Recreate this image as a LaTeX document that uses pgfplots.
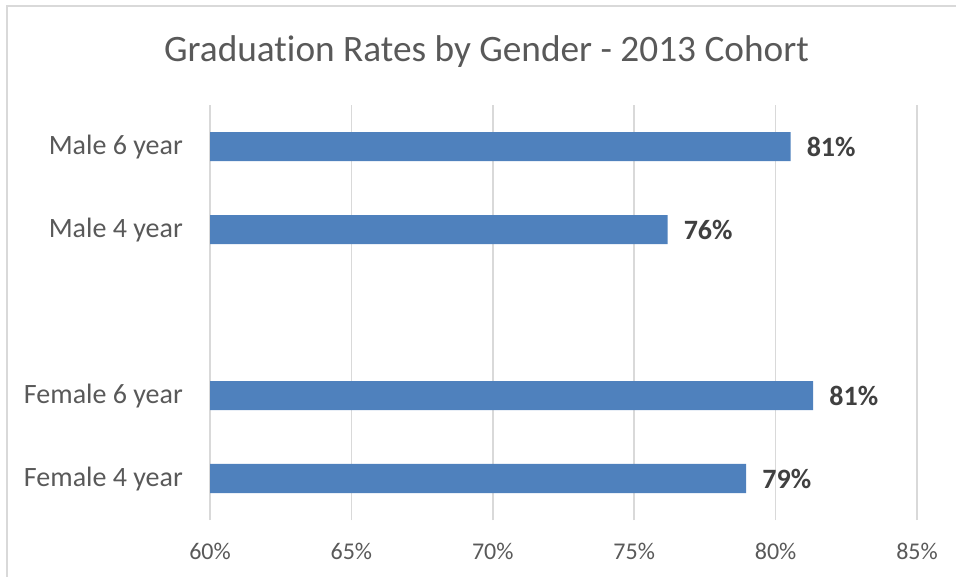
\documentclass[border=0pt]{standalone}
\usepackage{pgfplots}
\pgfplotsset{compat=1.18}
\usepackage{fontspec}
\setmainfont{Carlito}[RawFeature=-liga]
\definecolor{barblue}{HTML}{4F81BD}
\definecolor{txtgray}{HTML}{595959}
\definecolor{lblgray}{HTML}{404040}
\definecolor{gridgray}{HTML}{D9D9D9}
\begin{document}
\begin{tikzpicture}
\path[use as bounding box] (0,0) rectangle (956bp,577bp);
\draw[gridgray, line width=1.5bp] (7bp,0) -- (7bp,571bp) -- (956bp,571bp);
\node[anchor=base, text=txtgray, font=\fontsize{37.3bp}{44bp}\selectfont, inner sep=0pt] at (486.5bp,515.3bp) {Graduation Rates by Gender - 2013 Cohort};
\begin{axis}[
  at={(210bp,57bp)}, anchor=south west,
  scale only axis, width=707bp, height=415bp,
  xmin=60, xmax=85, ymin=-0.5, ymax=4.5,
  xtick={60,65,70,75,80,85},
  xticklabels={60\%,65\%,70\%,75\%,80\%,85\%},
  ytick={0,1,3,4},
  yticklabels={Female 4 year,Female 6 year,Male 4 year,Male 6 year},
  xmajorgrids, major grid style={gridgray, line width=1.5bp},
  axis line style={draw=none},
  major tick length=0pt,
  xticklabel style={anchor=base, yshift=-39bp, text=txtgray, font=\fontsize{24bp}{28bp}\selectfont},
  yticklabel style={anchor=base east, inner sep=0pt, xshift=-27bp, yshift=-8bp, text=txtgray, font=\fontsize{28bp}{32bp}\selectfont},
  xbar, bar width=29bp, bar shift=0pt,
  point meta=explicit symbolic,
  nodes near coords,
  nodes near coords style={anchor=west, inner sep=0pt, xshift=16bp, text=lblgray, font=\fontsize{28bp}{32bp}\selectfont\bfseries},
]
\addplot[fill=barblue, draw=none] coordinates {
  (78.96,0) [79\%]
  (81.33,1) [81\%]
  (76.18,3) [76\%]
  (80.53,4) [81\%]
};
\end{axis}
\end{tikzpicture}
\end{document}
